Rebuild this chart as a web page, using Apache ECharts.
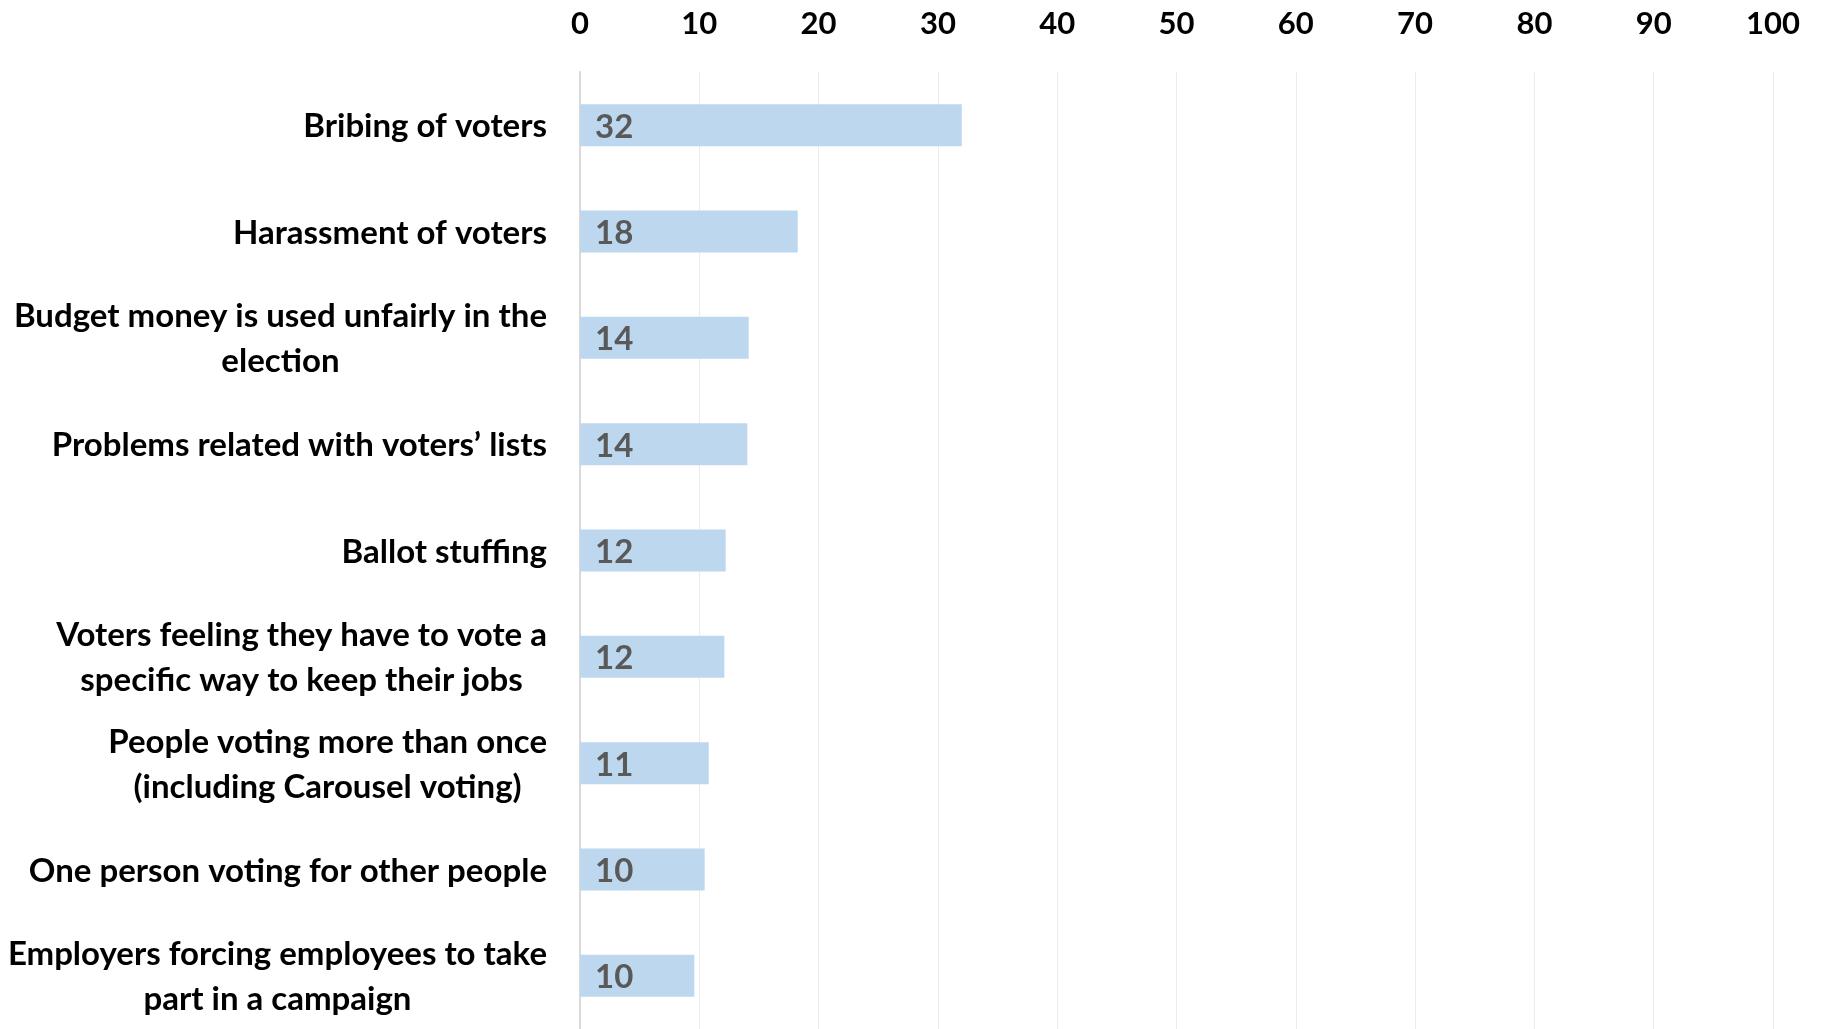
<!DOCTYPE html>
<html>
<head>
<meta charset="utf-8">
<script src="https://cdn.jsdelivr.net/npm/echarts@6/dist/echarts.min.js"></script>
<style>
  html, body { margin: 0; padding: 0; background: #ffffff; }
  #chart { width: 1821px; height: 1029px; }
</style>
</head>
<body>
<div id="chart"></div>
<script>
const categories = [
  'Bribing of voters',
  'Harassment of voters',
  'Budget money is used unfairly in the\nelection',
  'Problems related with voters\u2019 lists',
  'Ballot stuffing',
  'Voters feeling they have to vote a\nspecific way to keep their jobs',
  'People voting more than once\n(including Carousel voting)',
  'One person voting for other people',
  'Employers forcing employees to take\npart in a campaign'
];
const values = [32.0, 18.25, 14.14, 14.03, 12.21, 12.10, 10.79, 10.45, 9.58];
const axisTicks = [0, 10, 20, 30, 40, 50, 60, 70, 80, 90, 100];

const FONT = 'Lato, "Open Sans", sans-serif';
const chart = echarts.init(document.getElementById('chart'));
chart.setOption({
  animation: false,
  backgroundColor: '#ffffff',
  grid: { left: 580, width: 1193, top: 72, height: 963, containLabel: false },
  xAxis: {
    type: 'value',
    position: 'top',
    min: axisTicks[0],
    max: axisTicks[axisTicks.length - 1],
    interval: axisTicks[1] - axisTicks[0],
    axisLine: { show: false },
    axisTick: { show: false },
    axisLabel: {
      margin: 33,
      fontSize: 31,
      fontWeight: 'bold',
      color: '#000000',
      fontFamily: FONT
    },
    splitLine: { show: true, lineStyle: { color: '#ececec', width: 1 } }
  },
  yAxis: {
    type: 'category',
    inverse: true,
    data: categories,
    axisLine: { show: true, lineStyle: { color: '#d9d9d9', width: 2 } },
    axisTick: { show: false },
    axisLabel: {
      margin: 33,
      padding: [3, 0, 0, 0],
      formatter: function (v) {
        return v.split('\n').map(function (s) { return '{c|' + s + '}'; }).join('\n');
      },
      rich: {
        c: {
          align: 'center',
          fontSize: 33,
          fontWeight: 'bold',
          color: '#000000',
          fontFamily: FONT,
          lineHeight: 45
        }
      }
    }
  },
  series: [{
    type: 'bar',
    data: values,
    barWidth: 42,
    itemStyle: { color: '#bdd7ee' },
    label: {
      show: true,
      position: 'insideLeft',
      distance: 15,
      offset: [0, 2],
      formatter: function (p) { return Math.round(p.value); },
      fontSize: 33,
      fontWeight: 'bold',
      color: '#595959',
      fontFamily: FONT
    }
  }]
});
</script>
</body>
</html>
